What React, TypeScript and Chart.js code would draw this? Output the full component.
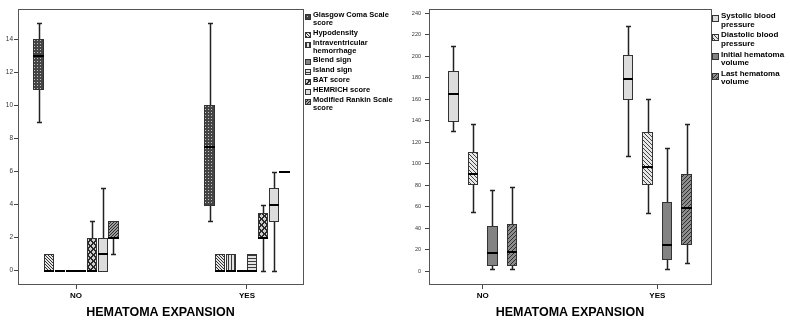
import React, { useEffect, useRef } from 'react';
import { Chart, registerables } from 'chart.js';
Chart.register(...registerables);

const groupLabels = ['NO', 'YES'];
const axisTitle = 'HEMATOMA EXPANSION';

// Each series: [min, Q1, median, Q3, max] for NO, then YES
const glasgowComaScale = [[9, 11, 13, 14, 15], [3, 4, 7.5, 10, 15]];
const hypodensity = [[0, 0, 0, 1, 1], [0, 0, 0, 1, 1]];
const intraventricularHemorrhage = [[0, 0, 0, 0, 0], [0, 0, 0, 1, 1]];
const blendSign = [[0, 0, 0, 0, 0], [0, 0, 0, 0, 0]];
const islandSign = [[0, 0, 0, 0, 0], [0, 0, 0, 1, 1]];
const batScore = [[0, 0, 0, 2, 3], [0, 2, 2, 3.5, 4]];
const hemrichScore = [[0, 0, 1, 2, 5], [0, 3, 4, 5, 6]];
const modifiedRankin = [[1, 2, 2, 3, 3], [6, 6, 6, 6, 6]];
const leftTickValues = [0, 2, 4, 6, 8, 10, 12, 14];

const systolicBP = [[130, 140, 165, 186, 210], [107, 160, 179, 201, 228]];
const diastolicBP = [[55, 81, 90, 111, 137], [54, 81, 97, 129, 160]];
const initialVolume = [[1.5, 6, 17, 42, 75], [2, 11, 24, 64, 115]];
const lastVolume = [[1.5, 6, 18, 44, 78], [7, 25, 59, 90, 137]];
const rightTickValues = [0, 20, 40, 60, 80, 100, 120, 140, 160, 180, 200, 220, 240];

const leftSeries = [
  { name: ['Glasgow Coma Scale', 'score'], stats: glasgowComaScale, fill: 'dots' },
  { name: ['Hypodensity'], stats: hypodensity, fill: 'back3' },
  { name: ['Intraventricular', 'hemorrhage'], stats: intraventricularHemorrhage, fill: 'vert' },
  { name: ['Blend sign'], stats: blendSign, fill: 'solidMid' },
  { name: ['Island sign'], stats: islandSign, fill: 'horiz' },
  { name: ['BAT score'], stats: batScore, fill: 'lattice' },
  { name: ['HEMRICH score'], stats: hemrichScore, fill: 'solidLight' },
  { name: ['Modified Rankin Scale', 'score'], stats: modifiedRankin, fill: 'fwd3' },
];

const rightSeries = [
  { name: ['Systolic blood', 'pressure'], stats: systolicBP, fill: 'solidLight' },
  { name: ['Diastolic blood', 'pressure'], stats: diastolicBP, fill: 'back4' },
  { name: ['Initial hematoma', 'volume'], stats: initialVolume, fill: 'solidMid' },
  { name: ['Last hematoma', 'volume'], stats: lastVolume, fill: 'fwd4' },
];

const FONT = '"Liberation Sans", Arial, sans-serif';

function makeFill(ctx: CanvasRenderingContext2D, kind: string): any {
  if (kind === 'solidLight') return '#dcdcdc';
  if (kind === 'solidMid') return '#838383';
  const t = document.createElement('canvas');
  const g = t.getContext('2d')!;
  const setup = (n: number, bg: string) => {
    t.width = n; t.height = n;
    g.fillStyle = bg; g.fillRect(0, 0, n, n);
  };
  const dot = (color: string, pts: number[][]) => {
    g.fillStyle = color;
    pts.forEach(([a, b]) => g.fillRect(a, b, 1, 1));
  };
  if (kind === 'dots') {
    setup(3, '#454545');
    dot('#c4c4c4', [[1, 1]]);
  } else if (kind === 'back3') {
    setup(3, '#e4e4e4');
    dot('#333', [[0, 0], [1, 1], [2, 2]]);
  } else if (kind === 'back4') {
    setup(4, '#e8e8e8');
    dot('#444', [[0, 0], [1, 1], [2, 2], [3, 3]]);
  } else if (kind === 'vert') {
    setup(3, '#e2e2e2');
    dot('#3a3a3a', [[0, 0], [0, 1], [0, 2]]);
  } else if (kind === 'horiz') {
    setup(3, '#e2e2e2');
    dot('#3a3a3a', [[0, 0], [1, 0], [2, 0]]);
  } else if (kind === 'lattice') {
    setup(6, '#d0d0d0');
    const pts: number[][] = [];
    for (let i = 0; i < 6; i++) {
      pts.push([i, i]); pts.push([i, 5 - i]);
      pts.push([(i + 1) % 6, i]); pts.push([(i + 1) % 6, 5 - i]);
    }
    dot('#2a2a2a', pts);
  } else if (kind === 'fwd3') {
    setup(3, '#9c9c9c');
    dot('#2a2a2a', [[2, 0], [1, 1], [0, 2]]);
  } else if (kind === 'fwd4') {
    setup(4, '#8c8c8c');
    dot('#2e2e2e', [[3, 0], [2, 1], [1, 2], [0, 3]]);
  }
  return ctx.createPattern(t, 'repeat');
}

type PanelCfg = {
  series: { name: string[]; stats: number[][]; fill: string }[];
  ticks: number[];
  xMin: number; xMax: number; yMin: number; yMax: number;
  slot: number; boxW: number;
  padRight: number; yAxisWidth: number; yTickFont: number; yTickPad: number;
  legend: { top: number; lineHeight: number; gap: number; icon: number; iconGap: number; textOffset: number; font: number };
};

function buildChart(canvas: HTMLCanvasElement, cfg: PanelCfg) {
  const ctx0 = canvas.getContext('2d')!;
  const fills = cfg.series.map((s) => makeFill(ctx0, s.fill));
  const n = cfg.series.length;

  const boxPlugin = {
    id: 'boxDraw',
    afterDatasetsDraw(chart: any) {
      const { ctx, scales } = chart;
      const x = scales.x, y = scales.y;
      ctx.save();
      chart.data.datasets.forEach((ds: any, i: number) => {
        ds.stats.forEach((st: number[], gi: number) => {
          const c = gi + (i - (n - 1) / 2) * cfg.slot;
          const xl = Math.round(x.getPixelForValue(c - cfg.boxW / 2));
          const xr = Math.round(x.getPixelForValue(c + cfg.boxW / 2));
          const xc = Math.round(x.getPixelForValue(c)) + 0.5;
          const [mn, q1, md, q3, mx] = st;
          const pMin = Math.round(y.getPixelForValue(mn));
          const pQ1 = Math.round(y.getPixelForValue(q1));
          const pMd = Math.round(y.getPixelForValue(md));
          const pQ3 = Math.round(y.getPixelForValue(q3));
          const pMax = Math.round(y.getPixelForValue(mx));
          const capW = 5;
          ctx.strokeStyle = '#222';
          ctx.lineWidth = 1.5;
          if (mx > q3) {
            ctx.beginPath();
            ctx.moveTo(xc, pQ3); ctx.lineTo(xc, pMax);
            ctx.moveTo(xc - capW / 2, pMax + 0.5); ctx.lineTo(xc + capW / 2, pMax + 0.5);
            ctx.stroke();
          }
          if (mn < q1) {
            ctx.beginPath();
            ctx.moveTo(xc, pQ1); ctx.lineTo(xc, pMin);
            ctx.moveTo(xc - capW / 2, pMin + 0.5); ctx.lineTo(xc + capW / 2, pMin + 0.5);
            ctx.stroke();
          }
          if (q3 > q1) {
            ctx.fillStyle = fills[i];
            ctx.fillRect(xl, pQ3, xr - xl, pQ1 - pQ3);
            ctx.strokeStyle = '#333';
            ctx.lineWidth = 1;
            ctx.strokeRect(xl + 0.5, pQ3 + 0.5, xr - xl - 1, pQ1 - pQ3);
          }
          ctx.strokeStyle = '#000';
          ctx.lineWidth = 2;
          ctx.beginPath();
          ctx.moveTo(xl, pMd); ctx.lineTo(xr, pMd);
          ctx.stroke();
        });
      });
      ctx.restore();
    },
  };

  const framePlugin = {
    id: 'frameDraw',
    afterDraw(chart: any) {
      const { ctx, chartArea: a } = chart;
      ctx.save();
      ctx.strokeStyle = '#555';
      ctx.lineWidth = 1;
      ctx.strokeRect(Math.round(a.left) + 0.5, Math.round(a.top) + 0.5, Math.round(a.right - a.left), Math.round(a.bottom - a.top));
      ctx.restore();
    },
  };

  const legendPlugin = {
    id: 'legendDraw',
    afterDraw(chart: any) {
      const { ctx, chartArea } = chart;
      const L = cfg.legend;
      ctx.save();
      ctx.font = `bold ${L.font}px ${FONT}`;
      ctx.textBaseline = 'middle';
      ctx.textAlign = 'left';
      let yy = L.top;
      cfg.series.forEach((s, i) => {
        const ix = Math.round(chartArea.right + L.iconGap);
        const iy = Math.round(yy - 1);
        ctx.fillStyle = fills[i];
        ctx.fillRect(ix, iy, L.icon, L.icon);
        ctx.strokeStyle = '#333';
        ctx.lineWidth = 1;
        ctx.strokeRect(ix + 0.5, iy + 0.5, L.icon - 1, L.icon - 1);
        ctx.fillStyle = '#000';
        s.name.forEach((line, k) => ctx.fillText(line, chartArea.right + L.textOffset, yy + k * L.lineHeight));
        yy += s.name.length * L.lineHeight + L.gap;
      });
      ctx.restore();
    },
  };

  return new Chart(canvas, {
    type: 'scatter',
    data: {
      datasets: cfg.series.map((s) => ({
        label: s.name.join(' '),
        data: s.stats.map((st, gi) => ({ x: gi, y: st[2] })),
        pointRadius: 0,
        showLine: false,
        stats: s.stats,
      })) as any,
    },
    options: {
      animation: false,
      responsive: false,
      devicePixelRatio: 1,
      events: [],
      layout: { padding: { left: 0, right: cfg.padRight, top: 9, bottom: 0 } },
      plugins: { legend: { display: false }, tooltip: { enabled: false } },
      scales: {
        x: {
          type: 'linear',
          min: cfg.xMin,
          max: cfg.xMax,
          afterBuildTicks: (s: any) => { s.ticks = [{ value: 0 }, { value: 1 }]; },
          afterFit: (s: any) => { s.height = 41; },
          ticks: {
            callback: (v: any) => groupLabels[v] ?? '',
            font: { family: FONT, size: 8, weight: 'bold' },
            color: '#000',
            padding: 1.5,
            maxRotation: 0,
            autoSkip: false,
          },
          grid: { drawOnChartArea: false, drawTicks: true, tickLength: 5, color: '#444' },
          border: { display: false },
          title: {
            display: true,
            text: axisTitle,
            font: { family: FONT, size: 12.5, weight: 'bold' },
            color: '#000',
            padding: { top: 0, bottom: 4.8 },
          },
        },
        y: {
          type: 'linear',
          min: cfg.yMin,
          max: cfg.yMax,
          afterBuildTicks: (s: any) => { s.ticks = cfg.ticks.map((v) => ({ value: v })); },
          afterFit: (s: any) => { s.width = cfg.yAxisWidth; },
          ticks: { font: { family: FONT, size: cfg.yTickFont }, color: '#333', padding: cfg.yTickPad },
          grid: { drawOnChartArea: false, drawTicks: true, tickLength: 4, color: '#444' },
          border: { display: false },
        },
      },
    } as any,
    plugins: [boxPlugin, framePlugin, legendPlugin],
  });
}

const leftCfg: PanelCfg = {
  series: leftSeries,
  ticks: leftTickValues,
  xMin: -0.3392, xMax: 1.3275,
  yMin: -0.805, yMax: 15.83,
  slot: 0.0626, boxW: 0.0595,
  padRight: 92, yAxisWidth: 18, yTickFont: 6.5, yTickPad: 1,
  legend: { top: 15, lineHeight: 8, gap: 1.8, icon: 6, iconGap: 1.5, textOffset: 10, font: 7.5 },
};

const rightCfg: PanelCfg = {
  series: rightSeries,
  ticks: rightTickValues,
  xMin: -0.3076, xMax: 1.3076,
  yMin: -12.1, yMax: 244.0,
  slot: 0.1122, boxW: 0.0605,
  padRight: 79, yAxisWidth: 34, yTickFont: 5.5, yTickPad: 4,
  legend: { top: 15.7, lineHeight: 8.6, gap: 2.1, icon: 7, iconGap: 1, textOffset: 10, font: 8 },
};

function Panel({ cfg, left }: { cfg: PanelCfg; left: number }) {
  const ref = useRef<HTMLCanvasElement>(null);
  useEffect(() => {
    const chart = buildChart(ref.current!, cfg);
    return () => chart.destroy();
  }, [cfg]);
  return (
    <canvas
      ref={ref}
      width={395}
      height={325}
      style={{ position: 'absolute', left, top: 0, width: 395, height: 325 }}
    />
  );
}

export default function App() {
  return (
    <div style={{ position: 'fixed', left: 0, top: 0, width: 790, height: 325, background: '#fff', overflow: 'hidden' }}>
      <Panel cfg={leftCfg} left={0} />
      <Panel cfg={rightCfg} left={395} />
    </div>
  );
}
